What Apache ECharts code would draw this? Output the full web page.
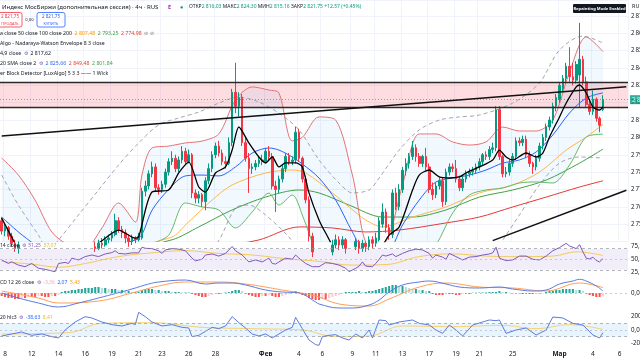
<!DOCTYPE html>
<html><head><meta charset="utf-8">
<script src="https://cdn.jsdelivr.net/npm/echarts@6/dist/echarts.min.js"></script>
<style>html,body{margin:0;padding:0;background:#fff}#c{width:640px;height:360px}</style>
</head><body><div id="c"></div>
<script>
// ---------- DATA ----------
// [open, high, low, close] per 4h candle
const candleOHLC = [
[2752,2754,2744,2746],[2746,2750,2743,2748],[2748,2749,2741,2743],[2743,2745,2737,2739],[2739,2741,2734,2736],
[2736,2740,2733,2738],[2738,2739,2731,2732],[2732,2735,2728,2730],[2730,2734,2727,2733],[2733,2735,2726,2728],
[2728,2730,2723,2725],[2725,2729,2722,2727],[2727,2728,2720,2722],[2722,2725,2718,2720],[2720,2723,2716,2721],
[2721,2722,2714,2716],[2716,2718,2711,2713],[2713,2726,2712,2724],[2724,2729,2721,2727],[2727,2730,2723,2725],
[2725,2731,2724,2729],[2729,2733,2727,2731],[2731,2732,2726,2728],[2728,2734,2727,2733],[2733,2736,2730,2731],
[2731,2737,2730,2735],[2735,2738,2732,2734],[2734,2739,2733,2737],[2737,2740,2734,2736],[2736,2741,2735,2739],
[2739,2742,2736,2738],[2738,2743,2737,2741],[2741,2744,2739,2742],[2742,2746,2740,2744],[2744,2756,2743,2752],
[2752,2754,2745,2747],[2747,2749,2742,2745],[2745,2747,2739,2742],[2742,2744,2737,2740],[2740,2744,2738,2742],
[2742,2743,2739,2741],[2741,2745,2740,2743],[2742,2771,2741,2769],[2769,2775,2766,2772],[2772,2781,2770,2779],
[2779,2786,2777,2783],[2783,2785,2769,2771],[2771,2773,2767,2770],[2770,2775,2768,2773],[2773,2782,2771,2780],
[2780,2788,2778,2786],[2786,2792,2784,2788],[2788,2790,2780,2782],[2782,2789,2780,2787],[2787,2795,2785,2792],
[2792,2794,2784,2786],[2786,2793,2785,2790],[2790,2791,2765,2768],[2768,2770,2762,2765],[2765,2769,2762,2767],
[2767,2768,2760,2763],[2763,2777,2758,2775],[2775,2785,2773,2782],[2782,2792,2780,2790],[2790,2797,2788,2795],
[2795,2798,2789,2791],[2791,2793,2784,2786],[2786,2789,2782,2785],[2785,2800,2784,2797],[2797,2828,2795,2826],
[2826,2843,2814,2818],[2818,2826,2812,2823],[2823,2825,2795,2797],[2797,2800,2786,2788],[2788,2791,2768,2782],
[2782,2785,2779,2783],[2783,2787,2781,2785],[2785,2789,2783,2787],[2787,2790,2784,2786],[2786,2794,2785,2792],
[2792,2795,2787,2789],[2789,2791,2770,2772],[2772,2775,2757,2770],[2770,2778,2768,2776],[2776,2784,2774,2782],
[2782,2791,2780,2789],[2789,2791,2784,2786],[2786,2789,2784,2787],[2787,2806,2785,2803],[2803,2805,2786,2788],
[2788,2789,2774,2776],[2776,2778,2762,2764],[2764,2766,2740,2743],[2743,2745,2731,2734],[2734,2736,2724,2727],
[2727,2729,2718,2721],[2721,2727,2718,2725],[2725,2732,2723,2730],[2730,2737,2728,2734],[2734,2741,2732,2738],
[2738,2744,2736,2741],[2741,2743,2735,2738],[2738,2743,2736,2741],[2741,2742,2733,2736],[2736,2737,2728,2731],
[2731,2739,2729,2737],[2737,2742,2735,2740],[2740,2741,2733,2736],[2736,2741,2734,2739],[2739,2740,2734,2737],
[2737,2743,2735,2741],[2741,2743,2736,2739],[2739,2745,2737,2742],[2741,2754,2740,2752],[2750,2762,2748,2757],
[2757,2759,2745,2748],[2748,2750,2741,2744],[2744,2770,2742,2768],[2768,2771,2758,2760],[2760,2773,2758,2770],
[2770,2783,2768,2781],[2781,2788,2778,2785],[2785,2791,2782,2789],[2789,2798,2787,2794],[2794,2796,2786,2789],
[2789,2791,2783,2785],[2785,2790,2783,2789],[2789,2794,2781,2783],[2783,2785,2768,2770],[2770,2774,2764,2767],
[2767,2774,2765,2772],[2772,2777,2770,2775],[2775,2777,2760,2763],[2763,2782,2761,2780],[2780,2785,2778,2783],
[2783,2785,2780,2782],[2782,2787,2774,2776],[2776,2778,2769,2771],[2771,2778,2769,2776],[2776,2781,2774,2779],
[2779,2782,2777,2780],[2780,2783,2778,2781],[2781,2785,2779,2783],[2783,2788,2781,2786],[2786,2791,2784,2790],
[2790,2792,2787,2789],[2789,2795,2787,2793],[2793,2797,2791,2794],[2794,2818,2792,2816],[2816,2818,2787,2789],
[2789,2790,2777,2779],[2779,2783,2777,2780],[2780,2787,2778,2785],[2785,2791,2783,2789],[2789,2800,2787,2798],
[2798,2800,2795,2797],[2797,2801,2795,2799],[2799,2801,2788,2790],[2790,2792,2783,2785],[2785,2786,2779,2783],
[2783,2790,2781,2788],[2788,2797,2786,2795],[2795,2802,2793,2800],[2800,2808,2798,2806],[2806,2812,2804,2810],
[2810,2820,2808,2818],[2818,2825,2815,2823],[2822,2832,2820,2830],[2828,2836,2826,2834],[2834,2843,2831,2841],
[2841,2852,2832,2835],[2835,2843,2830,2833],[2833,2844,2831,2842],[2836,2866,2817,2845],[2845,2847,2830,2832],
[2832,2835,2817,2819],[2819,2822,2813,2815],[2815,2827,2813,2822],[2822,2823,2809,2811],[2811,2812,2803,2807],
[2816.03,2824.30,2815.16,2821.75]
];
const slotCount = 188;
const dateTickIdx = [1,9,17,25,33,41,48,56,64,79,89,96,105,112,120,128,136,143,153,167,177,185];
const dateTickText = ['8','12','14','16','19','21','23','26','28','Фев','4','6','9','11','13','17','19','21','25','Мар','4','6'];

const bbIdx   = [0,5,10,15,20,25,30,35,40,42,45,50,55,60,65,70,75,80,83,87,90,95,100,105,110,115,120,125,130,135,140,145,150,155,160,165,170,175,180];
const bbUpper = [2788.1,2778.3,2763.9,2745.5,2738,2736.3,2747.8,2762.2,2751.2,2778.3,2793.9,2795,2796.8,2797.9,2802,2821.6,2829.1,2827.3,2825.6,2798,2800,2811.8,2810,2778.3,2738,2740,2772.6,2802,2802,2797.4,2795.6,2797.4,2806,2803.7,2803.7,2810,2837.7,2857.9,2849.48];
const bbBasis = [2754.1,2745.5,2738,2730.5,2728.2,2728.2,2732.2,2738,2740.9,2744,2758,2770,2777.8,2778.3,2777.8,2783,2791,2793.9,2792.7,2788.7,2784.7,2776.6,2763.9,2745.5,2731,2732,2749.5,2763.9,2774.3,2776.6,2778.3,2781.2,2785.2,2787,2791.6,2801.4,2814.1,2822.7,2825.66];
const bbLower = [2720.7,2717.8,2712,2709.2,2709.2,2712,2717.8,2726.5,2732.2,2730.5,2738,2743.7,2762.2,2759.9,2758.2,2747.8,2757,2767.9,2761,2766.8,2755.3,2729.3,2712,2714.9,2722,2724,2720.7,2729.3,2738,2756.4,2766.8,2769.7,2770.8,2773.7,2774.3,2773.7,2784.1,2800.2,2801.84];

const emaIdx = [0,3,5,17,29,35,40,41,45,50,53,56,59,61,64,67,69,71,74,77,79,81,83,85,88,90,92,95,97,101,107,113,116,119,123,125,128,131,134,137,139,143,147,149,151,153,157,160,162,164,167,169,172,173,175,177,179,180];
const emaVal = [2753.5,2742.6,2736.3,2728.2,2739.1,2746.6,2742,2742.6,2768.5,2769.7,2779.5,2785.8,2771.4,2768.5,2779.5,2783,2792.7,2806,2796.8,2788.7,2785.3,2788.7,2783,2785.3,2785.3,2783,2768,2752.4,2744.9,2732.2,2729.3,2735.1,2743.7,2748.4,2769.7,2778.3,2781.2,2777.2,2776.6,2777.2,2779.5,2783,2787,2792.7,2788.7,2787,2791,2788.7,2791,2800.2,2811.8,2819.8,2829.1,2830.2,2825.6,2817.5,2815.8,2817.62];

const sma50Idx = [29,51,55,63,69,79,87,91,99,104,109,114,123,133,143,153,161,169,175,180];
const sma50Val = [2732,2742.6,2749.5,2763.9,2772.6,2779.5,2781.2,2779.5,2768,2759.9,2752.4,2748.4,2754.1,2759.9,2768,2772.6,2780,2792.7,2800.2,2807.48];
const sma100Idx = [0,29,51,59,69,79,89,95,104,114,123,133,143,153,163,173,180];
const sma100Val = [2735,2733,2741,2748.4,2758.2,2765.6,2769.7,2768,2761,2754.1,2754.1,2758.2,2765.6,2769.7,2775.4,2785.2,2793.25];
const sma200Idx = [0,44,65,77,89,99,109,119,133,143,153,163,173,180];
const sma200Val = [2725,2731,2737,2740.9,2748.4,2747.8,2745.5,2746.6,2750.7,2754.1,2759.9,2765.6,2771.4,2774.98];

const nwUpIdx = [0,5,11,14,17,23,29,35,41,47,53,59,65,71,77,83,89,95,101,105,110,113,119,125,131,137,143,153,161,167,174,180];
const nwUpVal = [2778.3,2761,2743.7,2735,2740.9,2755.3,2769.7,2784.1,2796.8,2807.2,2811.2,2814.6,2819.8,2823.3,2820.4,2814,2804.3,2787,2773.7,2768,2769.7,2776.6,2792.7,2804.3,2810,2811.8,2812.9,2819.8,2831.4,2850.4,2858.4,2854.4];
const nwLoIdx = [0,29,53,64,70,74,79,86,89,104,125,140,148,151,155,161,167,173,180];
const nwLoVal = [2712,2706,2723.6,2738,2759.3,2761,2755.3,2742.6,2735,2712,2706,2720,2735,2743.7,2755.3,2772.6,2785.2,2788.7,2788.1];

const trendUpIdx = [0,187],   trendUpVal = [2800.8,2829.2];
const trendLowIdx = [147,187], trendLowVal = [2740.5,2769.5];
const obTop = 2831.9, obBottom = 2817.5, lastClose = 2821.75;

const rsiIdx = [0,2,3,5,7,9,11,13,16,17,19,20,21,23,25,27,29,31,33,34,35,37,39,41,42,43,45,47,48,49,51,53,55,57,58,60,61,63,65,67,68,69,70,72,74,76,78,80,81,82,83,85,87,88,89,91,93,95,97,99,101,103,104,106,107,108,109,111,112,114,115,117,118,120,122,124,126,128,129,130,132,133,134,136,138,140,142,144,146,147,148,149,151,153,155,157,159,161,163,165,167,169,170,172,173,174,175,176,177,178,179,180];
const rsiVal = [48.7,42,45,39,36,42,33,31,26.6,42,44,42,52,48.7,55,58,55,60,62.5,66,61,60,62,62,72.6,70.7,70,66,61,67.5,70,69,66,52,47,50,58,60,56,61,67.5,74,66,58,45,48.7,45,52,42,41,45,52,50,58,52,42,36,36,43.6,42,39,33,26.6,33,37,45,37,36,42,58,56,60,55,61,66,69,67.5,61,52,58,54,50,61,55,48.7,54,55,58,60,62,72.6,52,47.5,48.7,56,56,50,48.7,56,66,72,80,75,70,77.5,64,52,50.6,54,47.5,45,51.25];
const rsiMaIdx = [0,10,17,25,35,45,55,65,75,85,95,105,115,125,135,145,155,165,172,180];
const rsiMaVal = [46,40,35,42,55,62,66,61,58,51,46,39,40,55,60,56,55,56,64,57.07];

const macdHist = [-3,-4,-5,-5,-6,-6,-5,-5,-4,-4, -4,-3,-3,-4,-4,-3,-3,-2,
 1,2,2,3,3,4,4,5,5,5,6,6,5,5,4,4, 4,3,3,2,2,1,1,1, 3,4,4,4,3,3,2,2,2, 1,1,1,0.5,0.5,0.5,
 -1,-2,-3,-4,-4,-3,-2,-1, -1,-0.5,0.5,1, 2,3,3,2, -1,-2,-3,-4,-4,-3,-3,-2, -3,-4,-4,-3,-2,-1, 1,2,1,
 -2,-3,-5,-6,-7,-7,-6,-6, -5,-4,-3,-2,-1, 1,1,1,1,2,1,1, 2,2,3,4,5,6,7,8,8,7,7,6,5, 4,4,3,3,2,2,
 -1,-2,-2,-2,-1,-1,-1,-2,-2,-1,-1,-1, 0.3,0.3,0.5,0.5,0.5,1, 1,1,2,1,1, 0.5,-0.5,-0.5,-0.5,
 -1,-1,-1,-1,-0.5,-0.5,-0.3, 1,2,2,3,3,4,4,4,4,3,3,2, -1,-2,-3,-4,-4,-3.36];
const macdIdx = [0,5,11,17,23,29,39,44,47,55,61,65,69,73,79,84,89,94,95,101,105,110,113,116,120,125,128,133,137,143,149,153,159,163,167,171,173,175,178,180];
const macdVal = [0,-5,-10,-14,-10,-5,4,9,11,13,9,10,10,8,3,1,0,-9,-11,-15,-15,-12,-7,1,8,11,12,9,6,5,6,4,2,3,9,12,13.7,12,7,2.07];
const sigIdx = [0,11,17,29,39,47,55,65,73,84,94,101,110,116,125,133,143,153,163,173,180];
const sigVal = [2,-5,-10,-8,0,7,11,11,9,3,-3,-11,-13,-6,6,10,6,5,2,10,5.43];

const cciIdx = [0,3,6,9,12,15,17,19,22,25,27,30,33,36,39,40,41,43,45,48,51,54,56,57,59,61,63,65,67,69,71,73,75,77,79,81,83,85,87,88,90,92,94,95,96,98,100,102,104,106,108,110,111,113,115,116,119,123,125,128,130,132,134,136,138,141,144,146,148,149,151,154,157,160,163,165,168,171,174,177,179,180];
const cciVal = [-90,-60,-30,-80,-60,-100,-120,0,120,200,180,120,80,60,100,80,265,200,120,60,80,40,30,-100,-80,-20,40,20,60,200,110,30,-60,-90,-60,-120,-60,0,40,190,20,-150,-220,-230,-100,-80,-70,-120,-150,-60,-120,0,-120,150,140,75,120,150,100,75,0,-50,75,0,-90,75,120,150,140,150,-50,0,30,-75,0,195,180,100,75,-75,-120,-38.63];
const cciMaIdx = [0,20,30,45,60,75,90,100,110,120,135,150,160,170,180];
const cciMaVal = [-60,-40,100,110,40,20,0,-100,-90,60,50,70,20,80,8.41];

// ---------- HELPERS ----------
const pairs = (idx, vals) => idx.map((i, k) => [i, vals[k]]);
const fmtRu = (v, d) => {
  const s = Math.abs(v).toFixed(d === undefined ? 2 : d);
  let [ip, dp] = s.split('.');
  ip = ip.replace(/\B(?=(\d{3})+(?!\d))/g, '\u2009');
  return (v < 0 ? '-' : '') + ip + (dp ? ',' + dp : '');
};
const cats = Array.from({length: slotCount}, (_, i) => {
  const k = dateTickIdx.indexOf(i); return k >= 0 ? dateTickText[k] : '';
});
const tickSet = new Set(dateTickIdx);
const FONT = 'Noto Sans';
const UP = '#089981', DOWN = '#F23645';

const gBase = {left: 0, right: 12, containLabel: false, outerBoundsMode: 'none'};
const grids = [
  Object.assign({}, gBase, {top: 0, height: 241.5}),
  Object.assign({}, gBase, {top: 232.7, height: 53.1}),
  Object.assign({}, gBase, {top: 273, height: 40}),
  Object.assign({}, gBase, {top: 303.33, height: 46.67})
];
const xAxes = grids.map((g, gi) => ({
  type: 'category', gridIndex: gi, data: cats, boundaryGap: true,
  axisLine: {show: false}, axisTick: {show: false},
  axisLabel: gi === 3 ? {
    show: true, interval: (i, v) => v !== '', margin: 1, fontSize: 6.5, fontFamily: FONT, color: '#131722',
    formatter: v => (v === 'Фев' || v === 'Мар') ? '{b|' + v + '}' : v,
    rich: {b: {fontWeight: 'bold', fontSize: 6.5, fontFamily: FONT, color: '#131722'}}
  } : {show: false},
  splitLine: {show: gi === 0, interval: i => tickSet.has(i), lineStyle: {color: '#F0F3FA', width: 1}}
}));
const yLab = {fontSize: 6.2, fontFamily: FONT, color: '#131722', margin: 3};
const yAxes = [
  {gridIndex: 0, position: 'right', min: 2740, max: 2879.2, interval: 10, scale: true,
   axisLine: {show: false}, axisTick: {show: false},
   axisLabel: Object.assign({}, yLab, {formatter: v => (v < 2745 || v > 2875) ? '' : fmtRu(v)}),
   splitLine: {show: true, lineStyle: {color: '#F0F3FA'}}},
  {gridIndex: 1, position: 'right', min: 0, max: 100, interval: 25,
   axisLine: {show: false}, axisTick: {show: false},
   axisLabel: Object.assign({}, yLab, {formatter: v => (v === 25 || v === 50 || v === 75) ? fmtRu(v) : ''}),
   splitLine: {show: false}},
  {gridIndex: 2, position: 'right', min: -20, max: 20, interval: 20,
   axisLine: {show: false}, axisTick: {show: false},
   axisLabel: Object.assign({}, yLab, {formatter: v => v === 0 ? '0,00' : ''}),
   splitLine: {show: false}},
  {gridIndex: 3, position: 'right', min: -300, max: 400, interval: 100,
   axisLine: {show: false}, axisTick: {show: false},
   axisLabel: Object.assign({}, yLab, {formatter: v => (v === 200 || v === 0 || v === -200) ? fmtRu(v) : ''}),
   splitLine: {show: false}}
];

const line = (data, color, width, extra) => Object.assign({
  type: 'line', data, symbol: 'none', silent: true, smooth: 0.3,
  lineStyle: {color, width}, xAxisIndex: 0, yAxisIndex: 0, z: 3
}, extra || {});

const series = [
  line(pairs(bbIdx, bbLower), 'rgba(0,0,0,0)', 0, {stack: 'bb', z: 1, lineStyle: {opacity: 0}}),
  line(bbIdx.map((i, k) => [i, bbUpper[k] - bbLower[k]]), 'rgba(0,0,0,0)', 0,
       {stack: 'bb', z: 1, lineStyle: {opacity: 0}, areaStyle: {color: 'rgba(33,150,243,0.09)'}}),
  line(pairs(nwUpIdx, nwUpVal), '#9E9E9E', 1, {lineStyle: {color: '#A3A6AF', width: 1, type: [4, 3]}}),
  line(pairs(nwLoIdx, nwLoVal), '#9E9E9E', 1, {lineStyle: {color: '#A3A6AF', width: 1, type: [4, 3]}}),
  line(pairs(sma200Idx, sma200Val), '#E53935', 1),
  line(pairs(sma100Idx, sma100Val), '#43A047', 1),
  line(pairs(sma50Idx, sma50Val), '#FFB74D', 1),
  line(pairs(bbIdx, bbUpper), '#E57373', 1),
  line(pairs(bbIdx, bbLower), '#66BB6A', 1),
  line(pairs(bbIdx, bbBasis), '#2962FF', 1),
  {
    type: 'candlestick', xAxisIndex: 0, yAxisIndex: 0, z: 4, silent: true, barWidth: '62%',
    data: candleOHLC.map(r => [r[0], r[3], r[2], r[1]]),
    itemStyle: {color: UP, color0: DOWN, borderColor: UP, borderColor0: DOWN, borderWidth: 1},
    markArea: {silent: true, itemStyle: {color: 'rgba(242,54,69,0.17)'},
      data: [[{yAxis: obBottom}, {yAxis: obTop}]]},
    markLine: {silent: true, symbol: 'none', animation: false,
      data: [
        {yAxis: obTop, lineStyle: {color: '#2B2B2B', width: 1.4, type: 'solid'}, label: {show: false}},
        {yAxis: obBottom, lineStyle: {color: '#2B2B2B', width: 1.4, type: 'solid'}, label: {show: false}},
        {yAxis: lastClose, lineStyle: {color: UP, width: 0.8, type: [1, 2], opacity: 0.8},
         label: {show: true, position: 'end', distance: 2, formatter: () => fmtRu(lastClose),
                 color: '#fff', backgroundColor: UP, padding: [1, 2], fontSize: 6.5, fontFamily: FONT}}
      ]}
  },
  line(pairs(emaIdx, emaVal), '#000000', 1.3, {z: 5, smooth: 0.25}),
  line(pairs(trendUpIdx, trendUpVal), '#111111', 1.5, {z: 5, smooth: false}),
  line(pairs(trendLowIdx, trendLowVal), '#111111', 1.5, {z: 5, smooth: false}),

  {type: 'line', xAxisIndex: 1, yAxisIndex: 1, data: pairs(rsiMaIdx, rsiMaVal), symbol: 'none', silent: true,
   smooth: 0.4, lineStyle: {color: '#F2CB5A', width: 1}, z: 3},
  {type: 'line', xAxisIndex: 1, yAxisIndex: 1, data: pairs(rsiIdx, rsiVal), symbol: 'none', silent: true,
   lineStyle: {color: '#7E57C2', width: 1}, z: 4,
   markArea: {silent: true, itemStyle: {color: 'rgba(126,87,194,0.1)'}, data: [[{yAxis: 30}, {yAxis: 70}]]},
   markLine: {silent: true, symbol: 'none', label: {show: false},
     lineStyle: {color: '#9598A1', width: 0.7, type: [3, 3]},
     data: [{yAxis: 70}, {yAxis: 50, lineStyle: {color: '#B2B5BE', width: 0.7, type: [2, 3]}}, {yAxis: 30}]}},

  {type: 'bar', xAxisIndex: 2, yAxisIndex: 2, silent: true, barWidth: '62%', z: 2,
   data: macdHist.map((v, i) => {
     const p = i > 0 ? macdHist[i - 1] : v;
     const c = v >= 0 ? (v >= p ? '#26A69A' : '#B2DFDB') : (v <= p ? '#FF5252' : '#FFCDD2');
     return {value: v, itemStyle: {color: c}};
   }),
   markLine: {silent: true, symbol: 'none', label: {show: false},
     lineStyle: {color: '#B2B5BE', width: 0.7, type: [2, 3]}, data: [{yAxis: 0}]}},
  {type: 'line', xAxisIndex: 2, yAxisIndex: 2, data: pairs(sigIdx, sigVal), symbol: 'none', silent: true,
   smooth: 0.4, lineStyle: {color: '#FF9E57', width: 1}, z: 3},
  {type: 'line', xAxisIndex: 2, yAxisIndex: 2, data: pairs(macdIdx, macdVal), symbol: 'none', silent: true,
   smooth: 0.4, lineStyle: {color: '#5B7BE0', width: 1}, z: 4},

  {type: 'line', xAxisIndex: 3, yAxisIndex: 3, data: pairs(cciMaIdx, cciMaVal), symbol: 'none', silent: true,
   smooth: 0.4, lineStyle: {color: '#F5D27A', width: 1}, z: 3},
  {type: 'line', xAxisIndex: 3, yAxisIndex: 3, data: pairs(cciIdx, cciVal), symbol: 'none', silent: true,
   lineStyle: {color: '#5B7BE0', width: 1}, z: 4,
   markArea: {silent: true, itemStyle: {color: 'rgba(33,150,243,0.1)'}, data: [[{yAxis: -100}, {yAxis: 100}]]},
   markLine: {silent: true, symbol: 'none', label: {show: false},
     lineStyle: {color: '#9598A1', width: 0.7, type: [3, 3]},
     data: [{yAxis: 100}, {yAxis: 0, lineStyle: {color: '#B2B5BE', width: 0.7, type: [2, 3]}}, {yAxis: -100}]}}
];

function txt(x, y, parts, size) {
  const rich = {}; let s = '';
  parts.forEach((p, k) => {
    rich['p' + k] = {fill: p[1], fontSize: size, fontFamily: FONT, fontWeight: p[2] || 'normal'};
    s += '{p' + k + '|' + p[0] + '}';
  });
  return {type: 'text', x, y, silent: true, z: 100,
    style: {text: s, rich, fontSize: size, fontFamily: FONT, verticalAlign: 'middle'}};
}
const D = '#131722', G = UP;
const graphic = [
  txt(2, 7, [['Индекс МосБиржи (дополнительная сессия) · 4ч · RUS', D]], 6),
  txt(168, 7, [['E', '#9C27B0', 'bold']], 5.5),
  txt(180, 7, [['●', G]], 5.5),
  txt(189, 7, [['ОТКР', D], ['2 816,03 ', G], ['МАКС', D], ['2 824,30 ', G], ['МИН', D], ['2 815,16 ', G],
               ['ЗАКР', D], ['2 821,75 ', G], ['+12,57 (+0,45%)', G]], 5),
  {type: 'rect', shape: {x: -2, y: 12.5, width: 24, height: 14.5, r: 2}, silent: true, z: 99,
   style: {fill: '#fff', stroke: DOWN, lineWidth: 0.8}},
  {type: 'text', x: 10, y: 17, silent: true, z: 100, style: {text: '2 821,75', fill: DOWN, fontSize: 4.6, fontFamily: FONT, align: 'center', verticalAlign: 'middle'}},
  {type: 'text', x: 10, y: 23.5, silent: true, z: 100, style: {text: 'ПРОДАТЬ', fill: DOWN, fontSize: 3.8, fontFamily: FONT, align: 'center', verticalAlign: 'middle'}},
  {type: 'text', x: 29.5, y: 20, silent: true, z: 100, style: {text: '0,00', fill: D, fontSize: 4.2, fontFamily: FONT, align: 'center', verticalAlign: 'middle'}},
  {type: 'rect', shape: {x: 37, y: 12.5, width: 28, height: 14.5, r: 2}, silent: true, z: 99,
   style: {fill: '#fff', stroke: '#2962FF', lineWidth: 0.8}},
  {type: 'text', x: 51, y: 17, silent: true, z: 100, style: {text: '2 821,75', fill: '#2962FF', fontSize: 4.6, fontFamily: FONT, align: 'center', verticalAlign: 'middle'}},
  {type: 'text', x: 51, y: 23.5, silent: true, z: 100, style: {text: 'КУПИТЬ', fill: '#2962FF', fontSize: 3.8, fontFamily: FONT, align: 'center', verticalAlign: 'middle'}},
  txt(0, 34, [['a close 50 close 100 close 200  ', D], ['2 807,48  ', '#FF9800'], ['2 793,25  ', '#43A047'], ['2 774,98  ', '#E53935'], ['⊘ ⊘', '#787B86']], 5.2),
  txt(0, 44, [['Algo - Nadaraya-Watson Envelope 8 3 close', D]], 5.2),
  txt(0, 54, [['4,9 close  ', D], ['⚙', '#7E57C2'], ['  2 817,62', D]], 5.2),
  txt(0, 64, [['20 SMA close 2  ', D], ['⚙', '#7E57C2'], ['  2 825,66  ', '#2962FF'], ['2 849,48  ', '#E53935'], ['2 801,84', '#43A047']], 5.2),
  txt(0, 74, [['er Block Detector [LuxAlgo] 5 3 3 —— 1 Wick', D]], 5.2),
  txt(0, 245.5, [['14 close  ', D], ['⚙', '#7E57C2'], ['  51,25  ', '#7E57C2'], ['57,07', '#E2B93B']], 5),
  txt(0, 283, [['CD 12 26 close  ', D], ['⚙', '#7E57C2'], ['  -3,36  ', '#F7A8B0'], ['2,07  ', '#2962FF'], ['5,43', '#FF9800']], 5),
  txt(0, 318, [['20 hlc3  ', D], ['⚙', '#7E57C2'], ['  -38,63  ', '#2962FF'], ['8,41', '#E2B93B']], 5),
  {type: 'rect', shape: {x: 573, y: 4, width: 53, height: 9, r: 1}, silent: true, z: 99, style: {fill: '#131722'}},
  {type: 'text', x: 599.5, y: 8.6, silent: true, z: 100, style: {text: 'Repainting Mode Enabled', fill: '#fff', fontSize: 4.1, fontWeight: 'bold', fontFamily: FONT, align: 'center', verticalAlign: 'middle'}},
  {type: 'text', x: 632, y: 6, silent: true, z: 100, style: {text: 'RUB', fill: D, fontSize: 5.5, fontFamily: FONT, verticalAlign: 'middle'}}
];

const chart = echarts.init(document.getElementById('c'), null, {renderer: 'canvas'});
chart.setOption({
  animation: false, backgroundColor: '#ffffff',
  grid: grids, xAxis: xAxes, yAxis: yAxes, series, graphic
});
</script></body></html>
